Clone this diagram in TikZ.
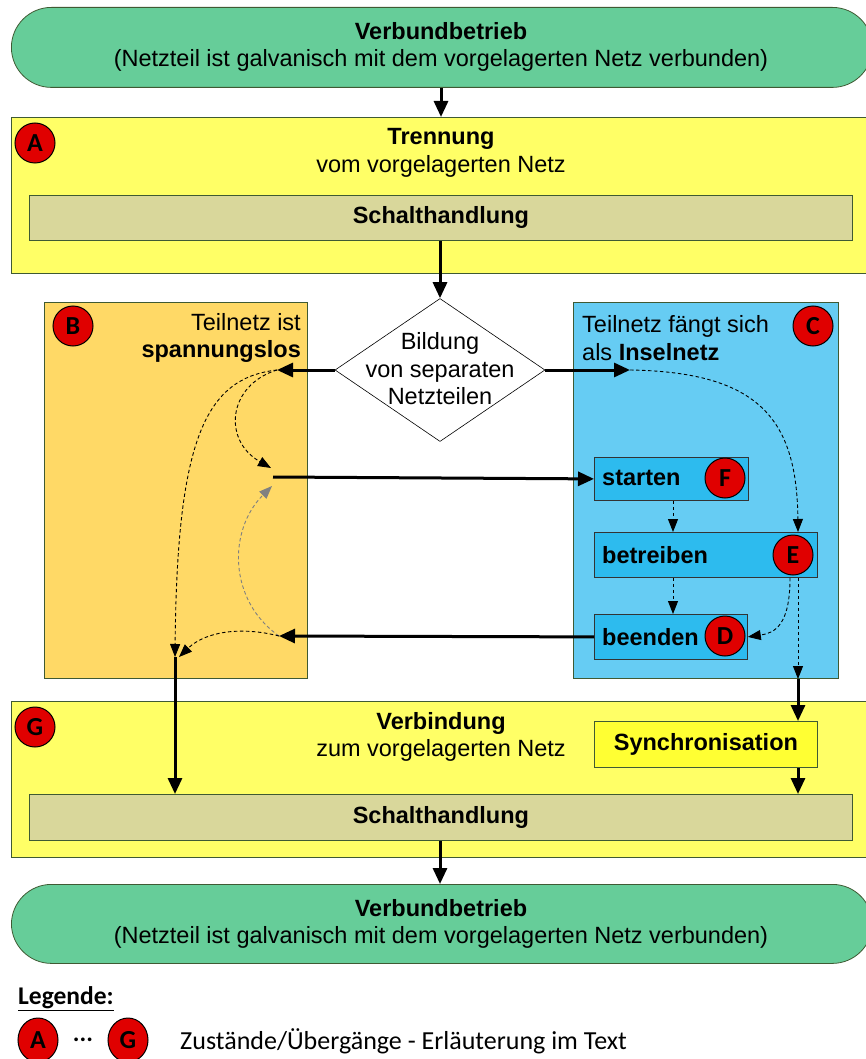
\documentclass[tikz,border=0pt]{standalone}
\usepackage{fontspec}
\setmainfont{Liberation Sans}
\newfontfamily\calibri{Carlito}
\usetikzlibrary{arrows.meta,shapes.geometric,calc}

\definecolor{netgreen}{HTML}{66CD99}
\definecolor{phaseyellow}{HTML}{FFFF66}
\definecolor{switchkhaki}{HTML}{D9D79B}
\definecolor{deadorange}{HTML}{FFD966}
\definecolor{islandblue}{HTML}{66CCF3}
\definecolor{stepblue}{HTML}{2DBBEE}
\definecolor{syncyellow}{HTML}{FFFF33}
\definecolor{markred}{HTML}{E00000}
\definecolor{edgecol}{HTML}{3F5A33}

\tikzset{
  txt/.style={font=\fontsize{23.5}{27.5}\selectfont, inner sep=0pt, align=center},
  boldtxt/.style={font=\fontsize{23.5}{27.5}\selectfont\bfseries},
  panel/.style={draw=edgecol, line width=0.8pt, inner sep=0pt, anchor=north west},
  stepbox/.style={panel, draw=black!80, fill=stepblue},
  marker/.style={circle, draw=black, line width=1pt, fill=markred, minimum size=40pt,
    inner sep=0pt, font=\calibri\bfseries\fontsize{26}{26}\selectfont},
  flow/.style={line width=3pt, -{Triangle[length=16pt,width=14pt]}},
  hop/.style={line width=0.9pt, dash pattern=on 3.5pt off 2.5pt, -{Triangle[length=13pt,width=10pt]}},
}

\begin{document}
\begin{tikzpicture}[x=1pt,y=-1pt]
\useasboundingbox (0,0) rectangle (865,1059);

% ---- interconnected operation (top) ----
\node[panel, fill=netgreen, rounded corners=40pt, minimum width=861pt, minimum height=80pt] (top) at (11,7) {};
\node[txt] (topTxt) at (441,47) {\textbf{Verbundbetrieb}\\(Netzteil ist galvanisch mit dem vorgelagerten Netz verbunden)};

% ---- A: separation ----
\node[panel, fill=phaseyellow, minimum width=859pt, minimum height=156pt] (trenn) at (11,117) {};
\node[marker] (mA) at (35,143) {A};
\node[txt] (trennTxt) at (441,153) {\textbf{Trennung}\\vom vorgelagerten Netz};
\node[panel, fill=switchkhaki, minimum width=823pt, minimum height=45pt, boldtxt] (schalt1) at (29,195) {Schalthandlung};

% ---- decision ----
\node[diamond, draw=black, line width=0.6pt, fill=white, minimum width=210pt, minimum height=143pt, inner sep=0pt] (dia) at (440,370) {};
\node[txt] (diaTxt) at (440,369) {Bildung\\von separaten\\Netzteilen};

% ---- B: de-energised part ----
\node[panel, fill=deadorange, minimum width=263pt, minimum height=376pt] (bBox) at (44,302) {};
\node[marker] (mB) at (73,326) {B};
\node[txt, anchor=east, align=right] (bTxt) at (301,338) {Teilnetz ist\\\textbf{spannungslos}};

% ---- C: island grid ----
\node[panel, fill=islandblue, minimum width=265pt, minimum height=376pt] (cBox) at (573,302) {};
\node[marker] (mC) at (813,326) {C};
\node[txt, anchor=west, align=left] (cTxt) at (582,338) {Teilnetz fängt sich\\als \textbf{Inselnetz}};

\node[stepbox, minimum width=154pt, minimum height=43pt] (starten) at (594,457) {};
\node[txt, anchor=west, boldtxt] (startenTxt) at (602,478) {starten};
\node[marker] (mF) at (725,478) {F};

\node[stepbox, minimum width=223pt, minimum height=45pt] (betreiben) at (594,532) {};
\node[txt, anchor=west, boldtxt] (betreibenTxt) at (602,555) {betreiben};
\node[marker] (mE) at (793,555) {E};

\node[stepbox, minimum width=153pt, minimum height=45pt] (beenden) at (594,614) {};
\node[txt, anchor=west, boldtxt] (beendenTxt) at (602,637) {beenden};
\node[marker] (mD) at (725,636) {D};

% ---- G: reconnection ----
\node[panel, fill=phaseyellow, minimum width=859pt, minimum height=156pt] (verb) at (11,701) {};
\node[marker] (mG) at (35,727) {G};
\node[txt] (verbTxt) at (441,737) {\textbf{Verbindung}\\zum vorgelagerten Netz};
\node[panel, fill=syncyellow, minimum width=223pt, minimum height=46pt, boldtxt] (sync) at (594,721) {Synchronisation};
\node[panel, fill=switchkhaki, minimum width=823pt, minimum height=46pt, boldtxt] (schalt2) at (29,794) {Schalthandlung};

% ---- interconnected operation (bottom) ----
\node[panel, fill=netgreen, rounded corners=40pt, minimum width=861pt, minimum height=79pt] (bottom) at (11,884) {};
\node[txt] (bottomTxt) at (441,924) {\textbf{Verbundbetrieb}\\(Netzteil ist galvanisch mit dem vorgelagerten Netz verbunden)};

% ---- legend ----
\node[anchor=west, inner sep=0pt, font=\calibri\bfseries\fontsize{25.5}{30}\selectfont] (legTitle) at (18,999) {\underline{Legende:}};
\node[marker, minimum height=44pt, ellipse] (legA) at (38,1040) {A};
\node[inner sep=0pt, font=\calibri\bfseries\fontsize{25}{25}\selectfont] (legDots) at (83,1040) {...};
\node[marker, minimum height=44pt, ellipse] (legG) at (128,1040) {G};
\node[anchor=west, inner sep=0pt, font=\calibri\fontsize{26}{30}\selectfont] (legTxt) at (180,1041) {Zustände/Übergänge - Erläuterung im Text};

% ---- free connector ends ----
\coordinate (bIn) at (277,370);
\coordinate (cIn) at (630,370);
\coordinate (bStart) at (273,477);
\coordinate (bMidIn) at (271,468);
\coordinate (bMidGray) at (272,486);
\coordinate (bOut) at (279,636);
\coordinate (bJoin) at (175,657);
\coordinate (bJoinR) at (179,657);
\coordinate (cOut) at (798,679);

% ---- solid connectors ----
\draw[flow] (top.south -| topTxt) -- (trenn.north -| topTxt);
\draw[flow] (schalt1.south -| dia) -- (dia.north);
\draw[flow] (dia.west) -- (bIn);
\draw[flow] (dia.east) -- (cIn);
\draw[flow] (bStart) -- (starten.west);
\draw[flow] (beenden.west) -- (bOut);
\draw[flow] (bJoin) -- (bJoin |- schalt2.north);
\draw[flow] (cOut) -- (sync.north -| cOut);
\draw[flow] (sync.south -| cOut) -- (schalt2.north -| cOut);
\draw[flow] (schalt2.south -| dia) -- (bottom.north -| dia);

% ---- dashed transitions ----
\draw[hop] (bIn) .. controls (205,378) and (177,440) .. (bJoin);
\draw[hop] (bIn) .. controls (228,385) and (222,440) .. (bMidIn);
\draw[hop, color=gray] (bOut) .. controls (228,600) and (228,530) .. (bMidGray);
\draw[hop] (bOut) .. controls (240,626) and (205,632) .. (bJoinR);
\draw[hop] (cIn) .. controls (760,372) and (797,420) .. (betreiben.north -| cOut);
\draw[hop] (starten.south -| 673,0) -- (betreiben.north -| 673,0);
\draw[hop] (betreiben.south -| 673,0) -- (beenden.north -| 673,0);
\draw[hop] (betreiben.south -| 790,0) .. controls (790,625) and (775,633) .. (beenden.east);
\draw[hop] (betreiben.south -| cOut) -- (cOut);
\end{tikzpicture}
\end{document}
